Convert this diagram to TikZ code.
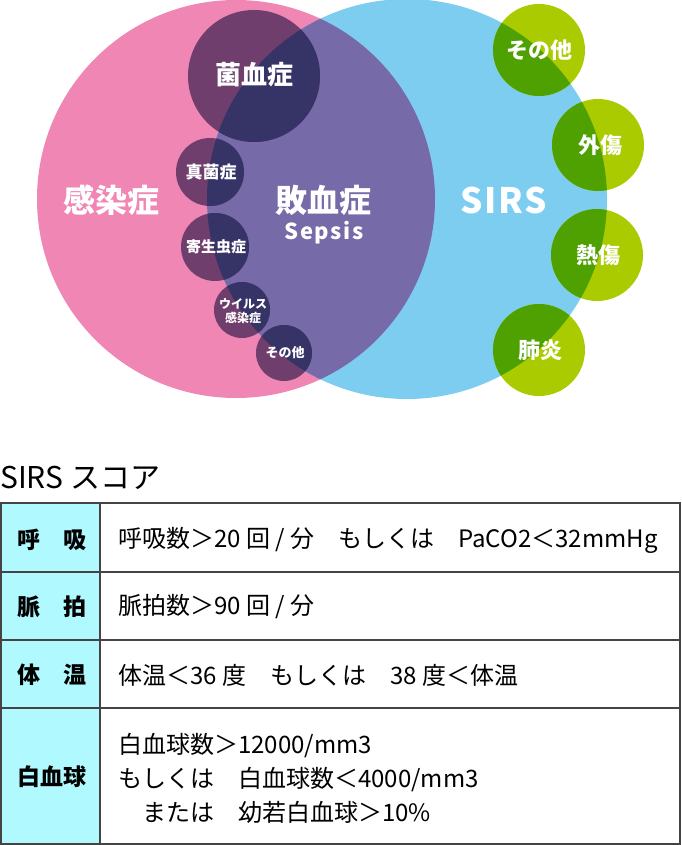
\documentclass[tikz,border=0pt]{standalone}
\usepackage{fontspec}
\setmainfont{Noto Sans CJK JP}
\definecolor{pinkc}{HTML}{EF86B4}
\definecolor{bluec}{HTML}{7DCDF0}
\definecolor{purplec}{HTML}{766AA9}
\definecolor{darkpink}{HTML}{6F3E6C}
\definecolor{darkblue}{HTML}{363366}
\definecolor{lgreen}{HTML}{A9CB00}
\definecolor{dgreen}{HTML}{4EA100}
\definecolor{cyanc}{HTML}{B0FAFF}
\definecolor{linec}{HTML}{444444}
\newcommand\fsz[1]{\fontsize{#1}{#1}\selectfont}
\tikzset{
  lbl/.style={text=white, inner sep=0pt, font=\bfseries\fsz{#1}},
  cell/.style={inner sep=0pt, anchor=west, text=black, font=\fsz{24}},
  head/.style={inner sep=0pt, text=black, font=\bfseries\fsz{23}},
  grid/.style={draw=linec, line width=1.4pt}
}
\begin{document}
\begin{tikzpicture}[x=1pt,y=-1pt]
\useasboundingbox (0,0) rectangle (681,845);
% big circles
\fill[pinkc] (236,199) circle[radius=199pt];
\fill[bluec] (407,199) circle[radius=200pt];
\begin{scope}
  \clip (236,199) circle[radius=199pt];
  \fill[purplec] (407,199) circle[radius=200pt];
\end{scope}
% dark circles
\fill[darkpink] (254,76) circle[radius=66pt];
\fill[darkpink] (210,172) circle[radius=34pt];
\fill[darkpink] (215,247) circle[radius=34pt];
\fill[darkpink] (242,310) circle[radius=28pt];
\fill[darkpink] (284,353) circle[radius=28pt];
\begin{scope}
  \clip (407,199) circle[radius=200pt];
  \fill[darkblue] (254,76) circle[radius=66pt];
  \fill[darkblue] (210,172) circle[radius=34pt];
  \fill[darkblue] (215,247) circle[radius=34pt];
  \fill[darkblue] (242,310) circle[radius=28pt];
  \fill[darkblue] (284,353) circle[radius=28pt];
\end{scope}
% green circles
\fill[lgreen] (539,50) circle[radius=46pt];
\fill[lgreen] (598,145) circle[radius=46pt];
\fill[lgreen] (597,255) circle[radius=46pt];
\fill[lgreen] (539,350) circle[radius=46pt];
\begin{scope}
  \clip (407,199) circle[radius=200pt];
  \fill[dgreen] (539,50) circle[radius=46pt];
  \fill[dgreen] (598,145) circle[radius=46pt];
  \fill[dgreen] (597,255) circle[radius=46pt];
  \fill[dgreen] (539,350) circle[radius=46pt];
\end{scope}
% labels
\node[lbl=32] (kansen) at (111,200) {感染症};
\node[lbl=32] (haiketsu) at (323,200) {敗血症};
\node[lbl=22, font=\bfseries\fsz{22}\addfontfeature{LetterSpace=7}] (sepsis) at (324,233) {Sepsis};
\node[lbl=34, font=\bfseries\fsz{35}\addfontfeature{LetterSpace=5}] (sirs) at (504,200) {SIRS};
\node[lbl=26] (kinketsu) at (254,75) {菌血症};
\node[lbl=17] (shinkin) at (211,172) {真菌症};
\node[lbl=15] (kisei) at (216,247) {寄生虫症};
\node[lbl=12, align=center, font=\bfseries\fontsize{12}{13.5}\selectfont] (virus) at (243,311) {ウイルス\\感染症};
\node[lbl=13] (sonota1) at (285,353) {その他};
\node[lbl=22] (sonota2) at (539,50) {その他};
\node[lbl=22] (gaisho) at (600,145) {外傷};
\node[lbl=22] (nessho) at (598,255) {熱傷};
\node[lbl=22] (haien) at (540,350) {肺炎};
% table
\node[inner sep=0pt, anchor=west, text=black, font=\fsz{30}] (title) at (0,478) {SIRS スコア};
\fill[cyanc] (1,503) rectangle (100,844);
\draw[grid] (1,503) rectangle (680,844);
\draw[grid] (100,503) -- (100,844);
\draw[grid] (1,572) -- (680,572);
\draw[grid] (1,640) -- (680,640);
\draw[grid] (1,708) -- (680,708);
\node[head] (h1) at (52,540) {呼　吸};
\node[head] (h2) at (52,607) {脈　拍};
\node[head] (h3) at (52,675) {体　温};
\node[head] (h4) at (52,777) {白血球};
\node[cell] (c1) at (118,540) {呼吸数＞20 回 / 分　もしくは　PaCO2＜32mmHg};
\node[cell] (c2) at (118,607) {脈拍数＞90 回 / 分};
\node[cell] (c3) at (118,675) {体温＜36 度　もしくは　38 度＜体温};
\node[cell, align=left, font=\fontsize{24}{34}\selectfont] (c4) at (118,778) {白血球数＞12000/mm3\\もしくは　白血球数＜4000/mm3\\　または　幼若白血球＞10\%};
\end{tikzpicture}
\end{document}
